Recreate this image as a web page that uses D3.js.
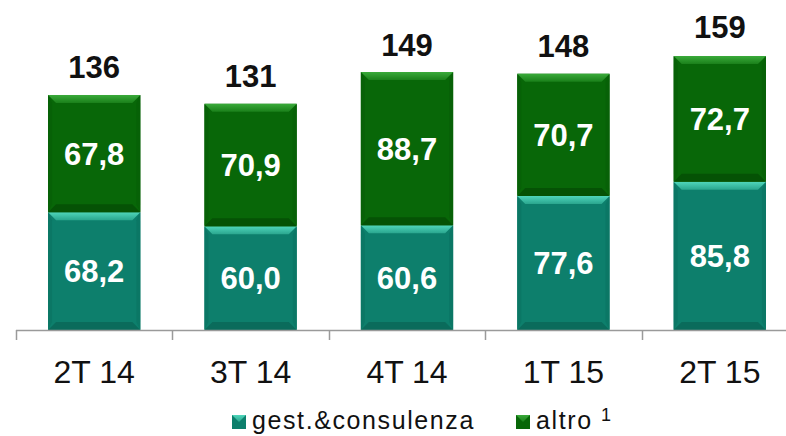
<!DOCTYPE html>
<html>
<head>
<meta charset="utf-8">
<script src="https://cdn.jsdelivr.net/npm/d3@7"></script>
<style>
  body { margin: 0; background: #fff; }
  text { font-family: "Liberation Sans", Arial, sans-serif; }
</style>
</head>
<body>
<div id="chart"></div>
<script>
// data
const categories = ['2T 14', '3T 14', '4T 14', '1T 15', '2T 15'];
const gestValues = [68.2, 60.0, 60.6, 77.6, 85.8];
const altroValues = [67.8, 70.9, 88.7, 70.7, 72.7];
const totals = [136, 131, 149, 148, 159];
const seriesNames = ['gest.&consulenza', 'altro'];

const width = 786, height = 436;
const svg = d3.select('#chart').append('svg')
  .attr('width', width)
  .attr('height', height);

// colours: main, top bevel, bottom shade
const palette = {
  gest: { main: '#0d7f6c', top: '#3ec5aa', bottom: '#0a6b5b', side: '#0b7765' },
  altro: { main: '#086708', top: '#2f9b2f', bottom: '#055205', side: '#076107' }
};

const defs = svg.append('defs');
function grad(id, c1, c2) {
  const g = defs.append('linearGradient').attr('id', id)
    .attr('x1', 0).attr('y1', 0).attr('x2', 0).attr('y2', 1);
  g.append('stop').attr('offset', '0%').attr('stop-color', c1);
  g.append('stop').attr('offset', '100%').attr('stop-color', c2);
}
grad('gTop', '#4fd6bb', '#2aa68e');
grad('aTop', '#3aaa3a', '#1a801a');

const baseY = 330;
const x = d3.scaleBand()
  .domain(categories)
  .range([16, 16 + 156.4 * categories.length])
  .paddingInner(0.41)
  .paddingOuter(0.205);

const y = d3.scaleLinear()
  .domain([0, 180])
  .range([baseY, baseY - 180 * 1.728]);

const stacked = categories.map((c, i) => ({
  cat: c,
  segs: [
    { key: 'gest', y0: 0, y1: gestValues[i], v: gestValues[i] },
    { key: 'altro', y0: gestValues[i], y1: gestValues[i] + altroValues[i], v: altroValues[i] }
  ],
  total: totals[i]
}));

// draws a bevelled block
function bevelRect(g, x0, y0, w, h, col, topFill) {
  const b = 8;
  g.append('rect').attr('x', x0).attr('y', y0).attr('width', w).attr('height', h).attr('fill', col.main);
  // left / right sides
  g.append('path').attr('d', `M${x0},${y0}L${x0 + b * 0.5},${y0 + b}L${x0 + b * 0.5},${y0 + h - b}L${x0},${y0 + h}Z`).attr('fill', col.side);
  g.append('path').attr('d', `M${x0 + w},${y0}L${x0 + w - b * 0.5},${y0 + b}L${x0 + w - b * 0.5},${y0 + h - b}L${x0 + w},${y0 + h}Z`).attr('fill', col.side);
  // bottom shade
  g.append('path').attr('d', `M${x0},${y0 + h}L${x0 + b},${y0 + h - b}L${x0 + w - b},${y0 + h - b}L${x0 + w},${y0 + h}Z`).attr('fill', col.bottom);
  // top bevel
  g.append('path').attr('d', `M${x0},${y0}L${x0 + w},${y0}L${x0 + w - b},${y0 + b}L${x0 + b},${y0 + b}Z`).attr('fill', topFill);
}

// bars
const bars = svg.append('g');
stacked.forEach(d => {
  const g = bars.append('g');
  d.segs.forEach(s => {
    const top = y(s.y1), bot = y(s.y0);
    bevelRect(g, x(d.cat), top, x.bandwidth(), bot - top, palette[s.key],
      s.key === 'gest' ? 'url(#gTop)' : 'url(#aTop)');
    g.append('text')
      .attr('x', x(d.cat) + x.bandwidth() / 2)
      .attr('y', (top + bot) / 2 + 11)
      .attr('text-anchor', 'middle')
      .attr('fill', '#fff')
      .attr('font-weight', 'bold')
      .attr('font-size', 31)
      .text(d3.format('.1f')(s.v).replace('.', ','));
  });
  g.append('text')
    .attr('x', x(d.cat) + x.bandwidth() / 2)
    .attr('y', y(d.total) - 17)
    .attr('text-anchor', 'middle')
    .attr('fill', '#111')
    .attr('font-weight', 'bold')
    .attr('font-size', 31)
    .text(d.total);
});

// x axis
const axis = svg.append('g');
axis.append('line')
  .attr('x1', 16).attr('x2', width)
  .attr('y1', baseY + 0.5).attr('y2', baseY + 0.5)
  .attr('stroke', '#9a9a9a').attr('stroke-width', 1.5);
categories.forEach(c => {
  const tx = Math.round(x(c) - x.step() * x.paddingInner() / 2) + 0.5;
  axis.append('line')
    .attr('x1', tx).attr('x2', tx)
    .attr('y1', baseY).attr('y2', baseY + 10)
    .attr('stroke', '#9a9a9a').attr('stroke-width', 1.5);
  axis.append('text')
    .attr('x', x(c) + x.bandwidth() / 2)
    .attr('y', baseY + 53)
    .attr('text-anchor', 'middle')
    .attr('fill', '#111')
    .attr('font-size', 32)
    .text(c);
});

// legend
const legend = svg.append('g');
const legendItems = [
  { name: seriesNames[0], key: 'gest', x: 232, top: 'url(#gTop)' },
  { name: seriesNames[1], key: 'altro', x: 516, top: 'url(#aTop)' }
];
legendItems.forEach(it => {
  const g = legend.append('g');
  const col = palette[it.key];
  g.append('rect').attr('x', it.x).attr('y', 415).attr('width', 14).attr('height', 14).attr('fill', col.main);
  g.append('path').attr('d', `M${it.x},415L${it.x + 14},415L${it.x + 7},422Z`).attr('fill', it.top);
  g.append('text')
    .attr('x', it.x + 20)
    .attr('y', 429)
    .attr('font-size', 25)
    .attr('letter-spacing', 1.6)
    .attr('fill', '#111')
    .text(it.name);
});
legend.append('text')
  .attr('x', 601).attr('y', 421)
  .attr('font-size', 18)
  .attr('fill', '#111')
  .text('1');
</script>
</body>
</html>
